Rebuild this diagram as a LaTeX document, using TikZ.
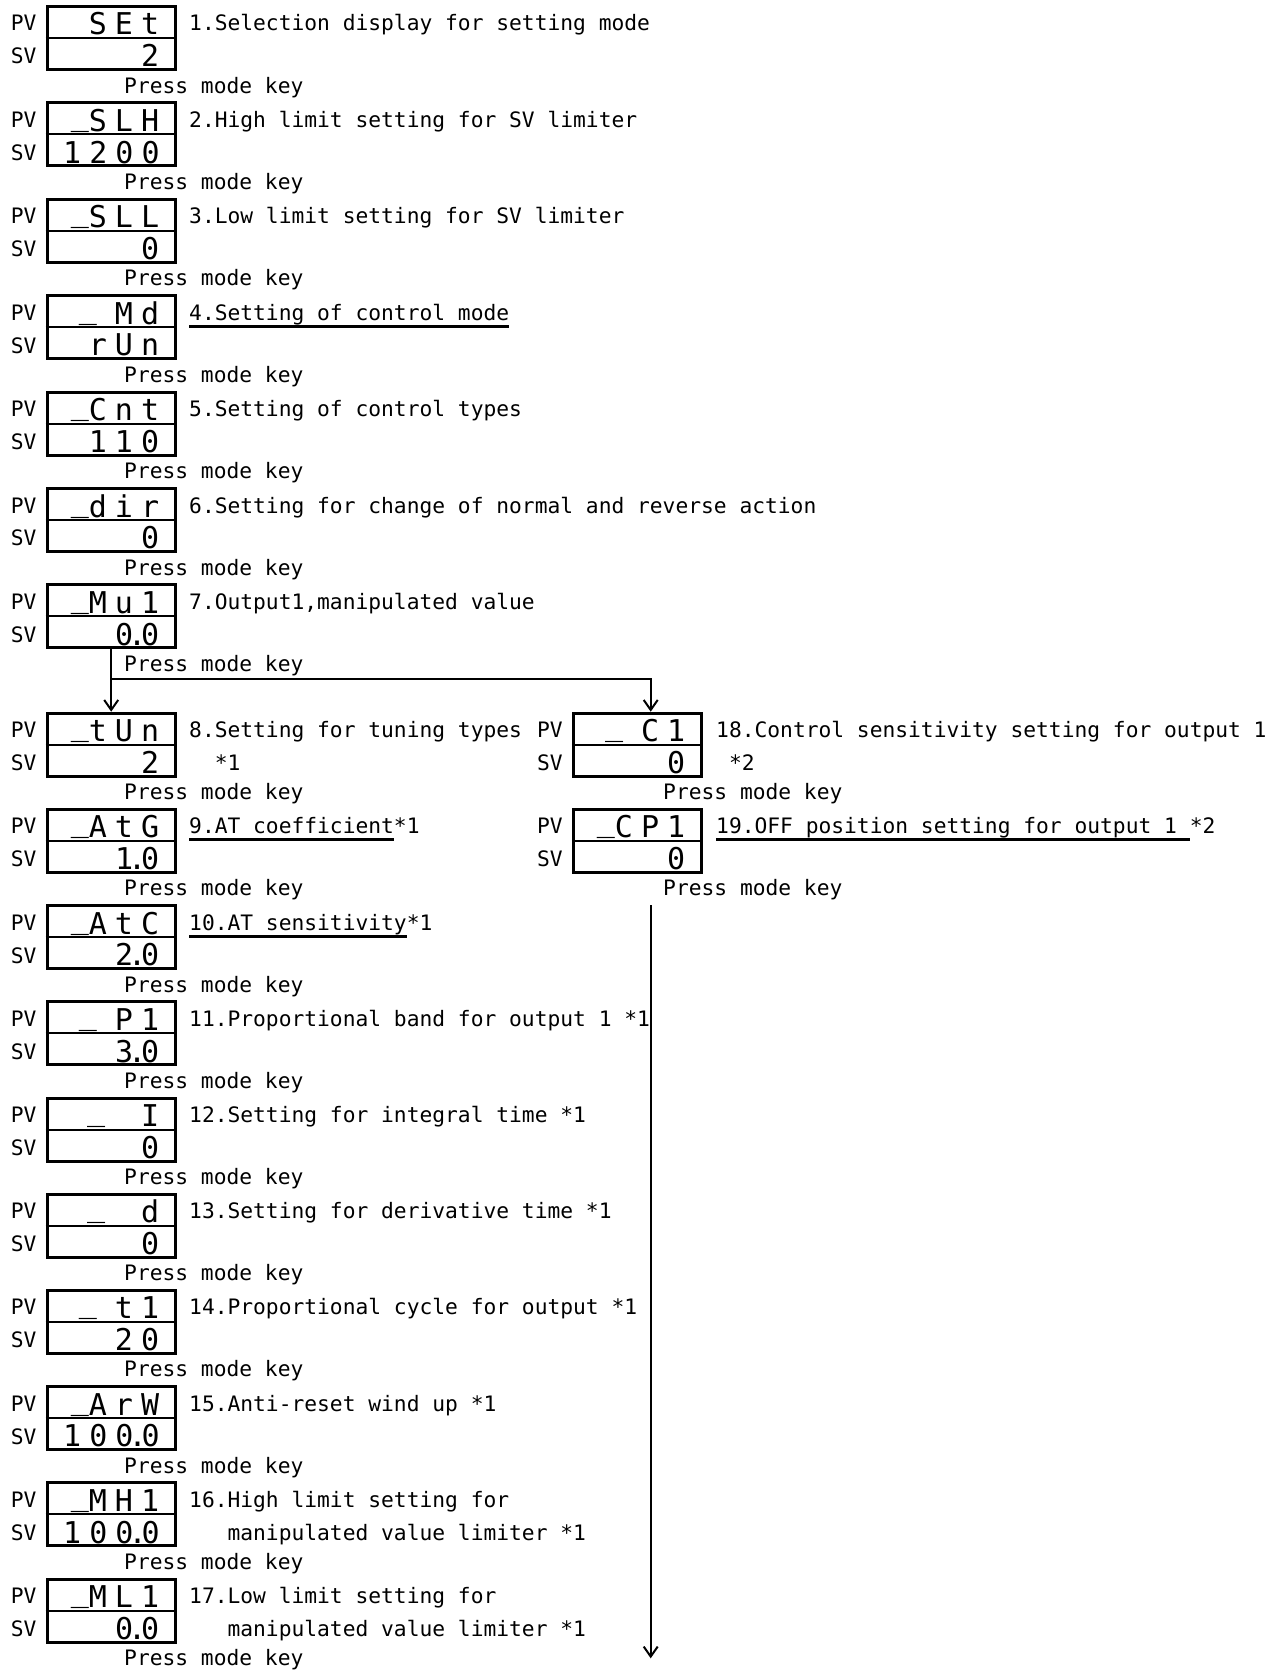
\documentclass[tikz,border=0pt]{standalone}
\usepackage{fontspec}
\setmainfont{DejaVu Sans Mono}
\newfontfamily\segfont[LetterSpace=27]{DejaVu Sans Mono}
\usetikzlibrary{arrows.meta}
\newcommand\sdot{\kern-5pt.\kern-5pt}
\newcommand\sbar{\raisebox{6pt}{\_}}
\newcommand\scell{\ \kern8pt}
\newcommand\ulin[1]{\vtop{\setbox0\hbox{#1}\dp0=0pt \box0 \kern4.5pt \hrule height 3pt}}
\begin{document}
\begin{tikzpicture}[x=1pt,y=-1pt,
	disp/.style={draw, line width=3pt, minimum width=128pt, minimum height=63pt,
		inner xsep=16pt, inner ysep=0pt, text width=96pt, align=right,
		text height=26pt, text depth=32pt, font=\segfont\fontsize{30}{31.7}\selectfont,
		append after command={(\tikzlastnode.west) edge [mid] (\tikzlastnode.east)},
		label={[pvsv, xshift=-9pt, yshift=14.75pt]left:PV},
		label={[pvsv, xshift=-9pt, yshift=-18.25pt]left:SV}},
	mid/.style={line width=2pt},
	pvsv/.style={font=\fontsize{21.26}{33}\selectfont, inner sep=0pt},
	txt/.style={font=\fontsize{21.26}{33}\selectfont, inner sep=0pt, anchor=base west},
	flow/.style={line width=2pt, -{Straight Barb[length=10pt,width=14pt]}}]
		\useasboundingbox (0,0) rectangle (1283,1670);
		% left column
		\node [disp] (d1) at (111.2,38) {SEt\\2};
		\node [txt] (t1) at (189,31) {1.Selection display for setting mode};
		\node [txt] (k1) at (124,93) {Press mode key};
		\node [disp] (d2) at (111.2,134.4) {\sbar SLH\\1200};
		\node [txt] (t2) at (189,127.4) {2.High limit setting for SV limiter};
		\node [txt] (k2) at (124,189.4) {Press mode key};
		\node [disp] (d3) at (111.2,230.8) {\sbar SLL\\0};
		\node [txt] (t3) at (189,223.8) {3.Low limit setting for SV limiter};
		\node [txt] (k3) at (124,285.8) {Press mode key};
		\node [disp] (d4) at (111.2,327.2) {\sbar\scell Md\\rUn};
		\node [txt] (t4) at (189,320.2) {\ulin{4.Setting of control mode}};
		\node [txt] (k4) at (124,382.2) {Press mode key};
		\node [disp] (d5) at (111.2,423.6) {\sbar Cnt\\110};
		\node [txt] (t5) at (189,416.6) {5.Setting of control types};
		\node [txt] (k5) at (124,478.6) {Press mode key};
		\node [disp] (d6) at (111.2,520) {\sbar dir\\0};
		\node [txt] (t6) at (189,513) {6.Setting for change of normal and reverse action};
		\node [txt] (k6) at (124,575) {Press mode key};
		\node [disp] (d7) at (111.2,616.4) {\sbar Mu1\\0\sdot0};
		\node [txt] (t7) at (189,609.4) {7.Output1,manipulated value};
		\node [txt] (k7) at (124,671.4) {Press mode key};
		\node [disp] (d8) at (111.2,744.7) {\sbar tUn\\2};
		\node [txt] (t8) at (189,737.7) {8.Setting for tuning types};
		\node [txt] (n8) at (189,770.7) {\phantom{00}*1};
		\node [txt] (k8) at (124,799.7) {Press mode key};
		\node [disp] (d9) at (111.2,840.9) {\sbar AtG\\1\sdot0};
		\node [txt] (t9) at (189,833.9) {\ulin{9.AT coefficient}*1};
		\node [txt] (k9) at (124,895.9) {Press mode key};
		\node [disp] (d10) at (111.2,937.1) {\sbar AtC\\2\sdot0};
		\node [txt] (t10) at (189,930.1) {\ulin{10.AT sensitivity}*1};
		\node [txt] (k10) at (124,992.1) {Press mode key};
		\node [disp] (d11) at (111.2,1033.3) {\sbar\scell P1\\3\sdot0};
		\node [txt] (t11) at (189,1026.3) {11.Proportional band for output 1 *1};
		\node [txt] (k11) at (124,1088.3) {Press mode key};
		\node [disp] (d12) at (111.2,1129.5) {\sbar\scell\scell I\\0};
		\node [txt] (t12) at (189,1122.5) {12.Setting for integral time *1};
		\node [txt] (k12) at (124,1184.5) {Press mode key};
		\node [disp] (d13) at (111.2,1225.7) {\sbar\scell\scell d\\0};
		\node [txt] (t13) at (189,1218.7) {13.Setting for derivative time *1};
		\node [txt] (k13) at (124,1280.7) {Press mode key};
		\node [disp] (d14) at (111.2,1321.9) {\sbar\scell t1\\20};
		\node [txt] (t14) at (189,1314.9) {14.Proportional cycle for output *1};
		\node [txt] (k14) at (124,1376.9) {Press mode key};
		\node [disp] (d15) at (111.2,1418.1) {\sbar ArW\\100\sdot0};
		\node [txt] (t15) at (189,1411.1) {15.Anti-reset wind up *1};
		\node [txt] (k15) at (124,1473.1) {Press mode key};
		\node [disp] (d16) at (111.2,1514.3) {\sbar MH1\\100\sdot0};
		\node [txt] (t16) at (189,1507.3) {16.High limit setting for};
		\node [txt] (n16) at (189,1540.3) {\phantom{000}manipulated value limiter *1};
		\node [txt] (k16) at (124,1569.3) {Press mode key};
		\node [disp] (d17) at (111.2,1610.5) {\sbar ML1\\0\sdot0};
		\node [txt] (t17) at (189,1603.5) {17.Low limit setting for};
		\node [txt] (n17) at (189,1636.5) {\phantom{000}manipulated value limiter *1};
		\node [txt] (k17) at (124,1665.5) {Press mode key};
		% right column
		\node [disp] (d18) at (637.3,744.7) {\sbar\scell C1\\0};
		\node [txt] (t18) at (716,737.7) {18.Control sensitivity setting for output 1};
		\node [txt] (n18) at (716,770.7) {\phantom{0}*2};
		\node [txt] (k18) at (663,799.7) {Press mode key};
		\node [disp] (d19) at (637.3,840.9) {\sbar CP1\\0};
		\node [txt] (t19) at (716,833.9) {\ulin{19.OFF position setting for output 1 }*2};
		\node [txt] (k19) at (663,895.9) {Press mode key};
		% arrows
		\coordinate (fork) at (111.2,679.3);
		\coordinate (back) at (650.7,905);
		\coordinate (next) at (650.7,1658.3);
		\draw [flow] (d7.south) -- (d8.north);
		\draw [flow] (fork) -| ([xshift=13.4pt]d18.north);
		\draw [flow] (back) -- (next);
	\end{tikzpicture}
\end{document}
